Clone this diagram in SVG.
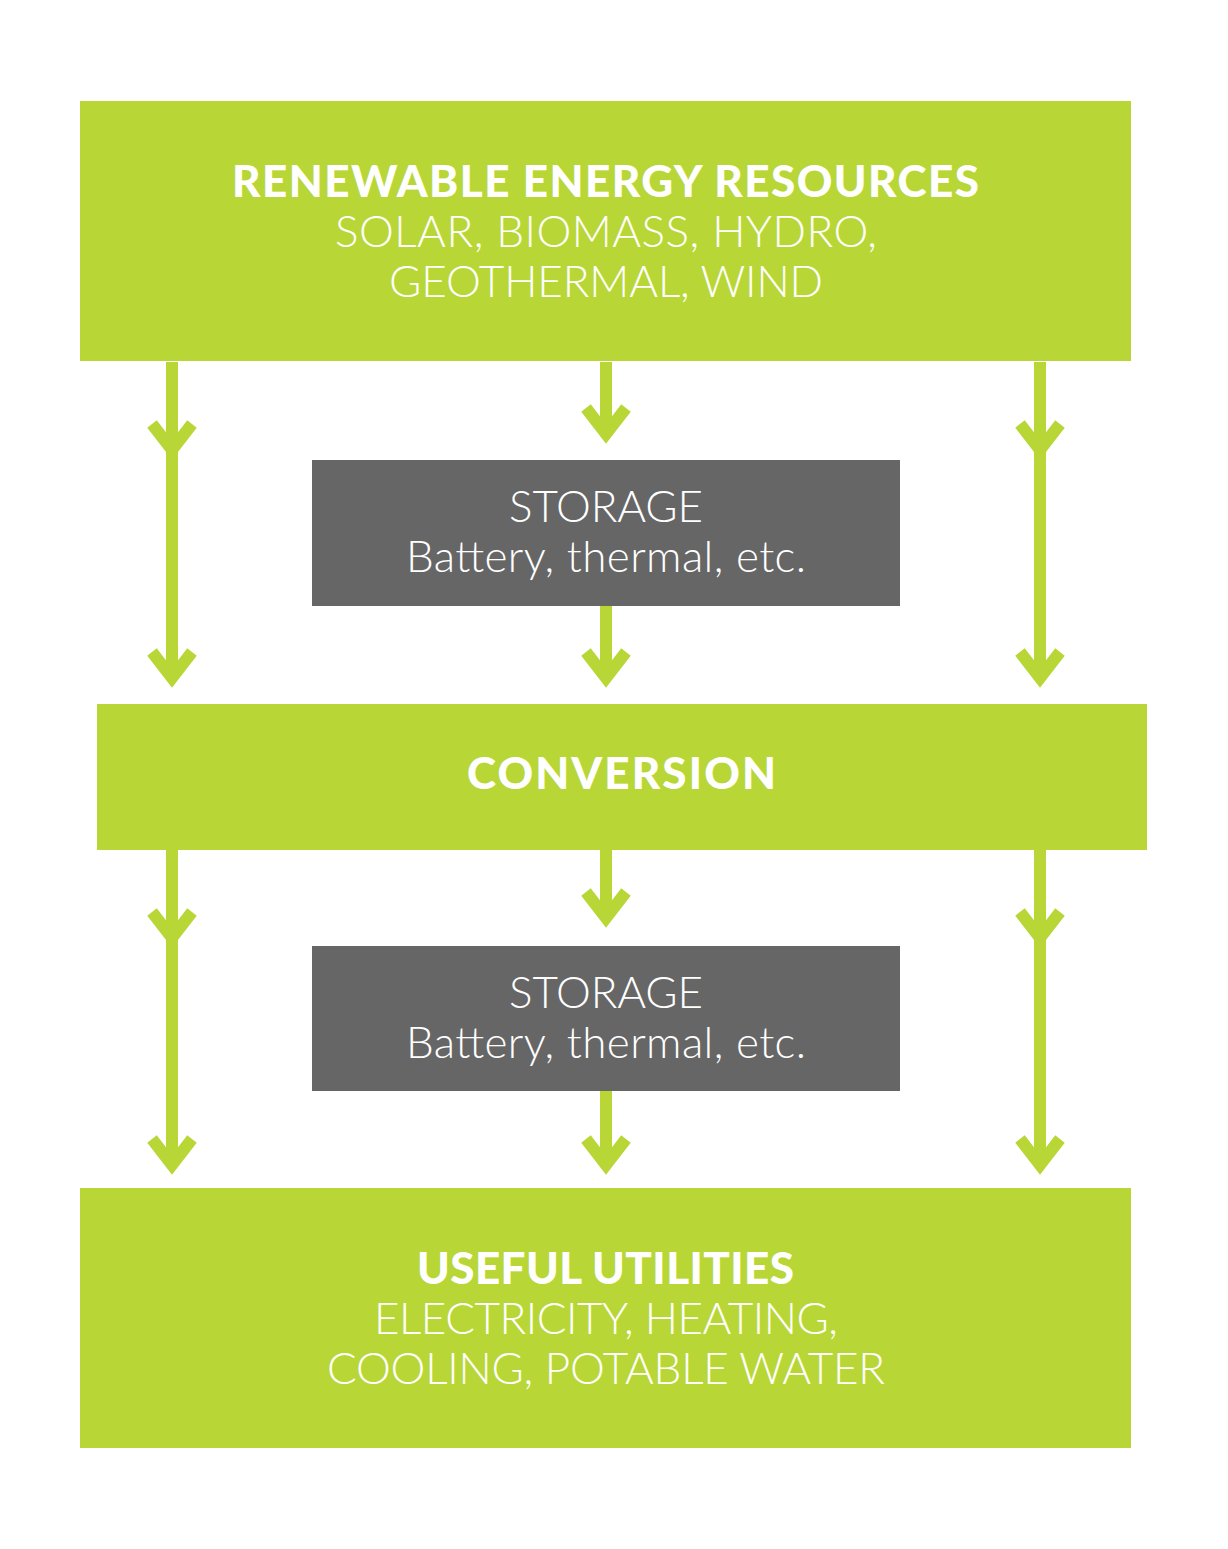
<svg xmlns="http://www.w3.org/2000/svg" width="1228" height="1549" viewBox="0 0 1228 1549">
<style>
.g{fill:#b8d737}.s{fill:#666666}
.t{font-family:Lato,"Liberation Sans",sans-serif;fill:#fff;text-anchor:middle}
.b{font-weight:900;font-size:44px;letter-spacing:1px}
.r{font-weight:300;font-size:44px}
.l{fill:none;stroke:#b8d737;stroke-width:12}
.c{fill:none;stroke:#b8d737;stroke-width:12;stroke-linejoin:miter;stroke-miterlimit:10}
</style>
<rect width="1228" height="1549" fill="#fff"/>
<g id="connectors">
<path class="l" d="M172 362V678M606 362V430M1040 362V678M606 606V678M172 850V1165M606 850V918M1040 850V1165M606 1091V1165"/>
<g>
<polyline class="c" points="152,424 172,450 192,424"/>
<polyline class="c" points="152,652 172,678 192,652"/>
<polyline class="c" points="586,408 606,434 626,408"/>
<polyline class="c" points="586,652 606,678 626,652"/>
<polyline class="c" points="1020,424 1040,450 1060,424"/>
<polyline class="c" points="1020,652 1040,678 1060,652"/>
<polyline class="c" points="152,912 172,938 192,912"/>
<polyline class="c" points="152,1139 172,1165 192,1139"/>
<polyline class="c" points="586,892 606,918 626,892"/>
<polyline class="c" points="586,1139 606,1165 626,1139"/>
<polyline class="c" points="1020,912 1040,938 1060,912"/>
<polyline class="c" points="1020,1139 1040,1165 1060,1139"/>
</g>
</g>
<g id="resources">
<rect class="g" x="80" y="101" width="1051" height="260"/>
<text class="t b" x="606" y="197" textLength="748">RENEWABLE ENERGY RESOURCES</text>
<text class="t r" x="606" y="247" textLength="542">SOLAR, BIOMASS, HYDRO,</text>
<text class="t r" x="606" y="297" textLength="434">GEOTHERMAL, WIND</text>
</g>
<g id="storage1">
<rect class="s" x="312" y="460" width="588" height="146"/>
<text class="t r" x="606" y="522" textLength="194">STORAGE</text>
<text class="t r" x="606" y="572" textLength="400">Battery, thermal, etc.</text>
</g>
<g id="conversion">
<rect class="g" x="97" y="704" width="1050" height="146"/>
<text class="t b" x="622" y="789" textLength="310">CONVERSION</text>
</g>
<g id="storage2">
<rect class="s" x="312" y="946" width="588" height="145"/>
<text class="t r" x="606" y="1008" textLength="194">STORAGE</text>
<text class="t r" x="606" y="1058" textLength="400">Battery, thermal, etc.</text>
</g>
<g id="utilities">
<rect class="g" x="80" y="1188" width="1051" height="260"/>
<text class="t b" x="606" y="1284" textLength="378">USEFUL UTILITIES</text>
<text class="t r" x="606" y="1334" textLength="464">ELECTRICITY, HEATING,</text>
<text class="t r" x="606" y="1384" textLength="558">COOLING, POTABLE WATER</text>
</g>
</svg>
